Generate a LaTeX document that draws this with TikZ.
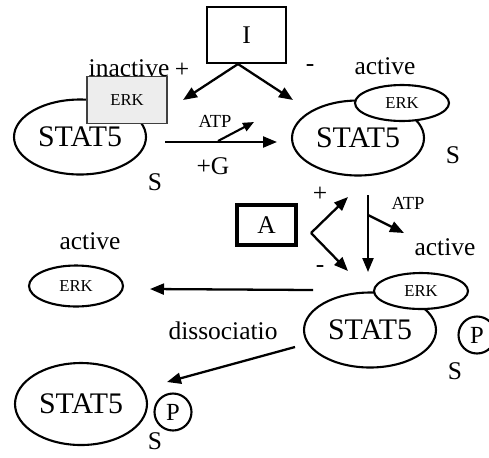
\documentclass[tikz,border=0pt]{standalone}
\usepackage{fontspec}
\setmainfont{Liberation Serif}
\usetikzlibrary{arrows.meta, shapes.geometric}
\tikzset{
	prot/.style={draw, ellipse, line width=1.2pt, fill=white, inner sep=0pt},
	stat/.style={prot, minimum width=2.64cm, minimum height=1.5cm,
		font=\fontsize{17}{17}\selectfont},
	erk/.style={prot, minimum width=1.88cm, minimum height=0.72cm,
		font=\fontsize{9.5}{10}\selectfont},
	phos/.style={draw, circle, line width=1.2pt, minimum size=0.74cm,
		inner sep=0pt, font=\fontsize{14}{14}\selectfont},
	lbl/.style={font=\fontsize{14.5}{15}\selectfont, inner sep=0pt},
	sml/.style={font=\fontsize{10.5}{11}\selectfont, inner sep=0pt},
	regbox/.style={draw, rectangle, font=\fontsize{14.5}{15}\selectfont},
	rarr/.style={-{Triangle[length=2.8mm, width=2.2mm]}, line width=1.3pt},
	sarr/.style={-{Triangle[length=2.2mm, width=1.8mm]}, line width=1.2pt}
}
\begin{document}
\begin{tikzpicture}[x=0.02cm, y=-0.02cm]
	\useasboundingbox (0,0) rectangle (489,457);
	% inhibitor and first step
	\node[regbox, line width=0.8pt, minimum width=1.58cm, minimum height=1.12cm] (inh) at (246.5,35) {I};
	\node[stat] (s1) at (80,137) {STAT5};
	\node[draw=black!75, fill=black!7, line width=1pt, minimum width=1.6cm,
		minimum height=0.94cm, font=\fontsize{9.5}{10}\selectfont] (erk1) at (127,100) {ERK};
	\node[lbl] (inact) at (129,68) {inactive};
	\node[lbl] (plus1) at (182,70) {+};
	\node[lbl] (minus1) at (310,68) {-};
	\node[lbl] (act1) at (385,66) {active};
	\node[lbl] (sa) at (155,182) {S};
	\node[stat] (s2) at (358,138) {STAT5};
	\node[erk] (erk2) at (402,103) {ERK};
	\node[lbl] (sb) at (453,155) {S};
	\coordinate (iL) at (183,100);
	\coordinate (iR) at (293,100);
	\coordinate (iV) at (238,64);
	\draw[rarr] (iV) -- (iL);
	\draw[rarr] (iV) -- (iR);
	\coordinate (h0) at (165,142);
	\coordinate (h1) at (277,142);
	\draw[rarr] (h0) -- (h1);
	\coordinate (a0) at (218,141);
	\coordinate (a1) at (254,122);
	\draw[sarr] (a0) -- (a1);
	\node[sml] (atp1) at (215,121) {ATP};
	\node[lbl] (g1) at (213,166) {+G};
	% activator and second step
	\node[regbox, line width=1.8pt, minimum width=1.18cm, minimum height=0.8cm] (act) at (266.5,225) {A};
	\coordinate (cv) at (311,233);
	\coordinate (cu) at (348,197);
	\coordinate (cd) at (348,271);
	\draw[rarr] (cv) -- (cu);
	\draw[rarr] (cv) -- (cd);
	\node[lbl] (plus2) at (320,194) {+};
	\node[lbl] (minus2) at (320,269) {-};
	\coordinate (v0) at (368,195);
	\coordinate (v1) at (368,272);
	\coordinate (vs) at (368,215);
	\coordinate (vt) at (404,233);
	\draw[rarr] (v0) -- (v1);
	\draw[rarr] (vs) -- (vt);
	\node[sml] (atp2) at (408,203) {ATP};
	\node[lbl] (act2) at (445,247) {active};
	\node[stat] (s3) at (370,330) {STAT5};
	\node[erk] (erk3) at (421,291) {ERK};
	\node[phos] (p3) at (477,335) {P};
	\node[lbl] (sc) at (455,371) {S};
	% dissociation
	\node[lbl] (act3) at (90,241) {active};
	\node[erk, minimum height=0.82cm] (erk4) at (76,286) {ERK};
	\node[lbl] (diss) at (223,331) {dissociatio};
	\coordinate (l0) at (313,290);
	\coordinate (l1) at (150,289);
	\draw[rarr] (l0) -- (l1);
	\coordinate (d0) at (295,347);
	\coordinate (d1) at (167,382);
	\draw[rarr] (d0) -- (d1);
	\node[stat, minimum height=1.64cm] (s4) at (81,404) {STAT5};
	\node[phos] (p4) at (173,412) {P};
	\node[lbl] (sd) at (155,441) {S};
\end{tikzpicture}
\end{document}
